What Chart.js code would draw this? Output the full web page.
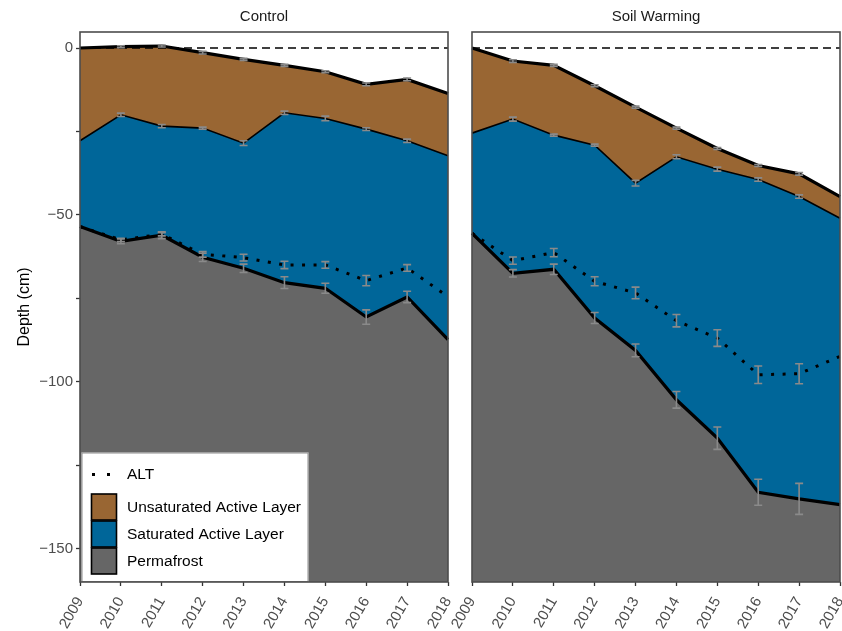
<!DOCTYPE html>
<html>
<head>
<meta charset="utf-8">
<script src="https://cdn.jsdelivr.net/npm/chart.js@4"></script>
<style>
  html, body { margin: 0; padding: 0; background: #ffffff; }
  #wrap { position: relative; width: 842px; height: 631px; overflow: hidden; }
  canvas { position: absolute; top: 0; }
  #ctl { left: 0px; }
  #sw { left: 420px; }
</style>
</head>
<body>
<div id="wrap">
  <canvas id="ctl" width="460" height="631"></canvas>
  <canvas id="sw" width="422" height="631"></canvas>
</div>
<script>
// Years on the x axis
const years = ['2009','2010','2011','2012','2013','2014','2015','2016','2017','2018'];

// Depth axis ticks (cm) and their labels
const yTickValues = [0, -25, -50, -75, -100, -125, -150];
const yTickLabels = ['0', '', '\u221250', '', '\u2212100', '', '\u2212150'];

// Panel titles
const panelTitles = ['Control', 'Soil Warming'];

// Layer names for the key
const altName = 'ALT';
const layerNames = ['Unsaturated Active Layer', 'Saturated Active Layer', 'Permafrost'];

// Control plots: ground surface, water table, thaw front, active layer thickness (cm)
const ctlSurface    = [0, 0.4, 0.6, -1.4, -3.4, -5.2, -7.1, -10.9, -9.4, -13.6];
const ctlSatTop     = [-27.8, -20.0, -23.4, -24.0, -28.5, -19.4, -21.1, -24.3, -27.8, -32.3];
const ctlPermafrost = [-53.5, -57.9, -56.1, -62.7, -66.0, -70.3, -72.0, -80.6, -74.6, -87.4];
const ctlALT        = [-53.5, -57.5, -55.8, -61.8, -62.8, -65.0, -65.0, -69.7, -65.9, -74.5];
// Control standard errors
const ctlSurfaceErr    = [null, 0.3, 0.3, 0.4, 0.3, 0.3, 0.3, 0.4, 0.4, null];
const ctlSatTopErr     = [null, 0.5, 0.5, 0.3, 0.7, 0.5, 0.7, 0.4, 0.5, null];
const ctlPermafrostErr = [null, 0.7, 1.0, 1.25, 1.25, 1.75, 1.5, 2.15, 1.7, null];
const ctlALTErr        = [null, 0.5, 0.5, 0.85, 1.0, 1.1, 1.0, 1.55, 1.0, null];

// Soil warming plots
const swSurface    = [0, -3.9, -5.2, -11.3, -17.7, -24.0, -30.1, -35.2, -37.7, -44.5];
const swSatTop     = [-25.5, -21.3, -26.1, -29.1, -40.5, -32.6, -36.3, -39.4, -44.5, -51.0];
const swPermafrost = [-55.5, -67.5, -66.3, -80.9, -90.6, -105.4, -116.9, -133.1, -135.1, -136.8];
const swALT        = [-55.5, -63.7, -61.3, -69.9, -73.4, -81.7, -86.9, -97.9, -97.6, -92.4];
// Soil warming standard errors
const swSurfaceErr    = [null, 0.4, 0.3, 0.3, 0.3, 0.3, 0.3, 0.3, 0.4, null];
const swSatTopErr     = [null, 0.6, 0.3, 0.3, 0.85, 0.6, 0.6, 0.5, 0.5, null];
const swPermafrostErr = [null, 1.1, 1.55, 1.65, 1.9, 2.5, 3.35, 3.9, 4.65, null];
const swALTErr        = [null, 1.1, 1.25, 1.35, 1.75, 1.85, 2.5, 2.6, 3.0, null];

const FONT = '"Liberation Sans", Arial, Helvetica, sans-serif';
const BROWN = '#996633';
const BLUE = '#006699';
const GREY = '#666666';
const ERR = '#8a8a8a';
const Y_MIN = -160;
const Y_MAX = 4.8;

// Vertical error bars with caps, drawn over the areas
const errorBarPlugin = {
  id: 'errorBars',
  afterDatasetsDraw(chart, args, opts) {
    const ctx = chart.ctx, xs = chart.scales.x, ys = chart.scales.y, a = chart.chartArea;
    ctx.save();
    ctx.beginPath();
    ctx.rect(a.left, a.top, a.right - a.left, a.bottom - a.top);
    ctx.clip();
    ctx.strokeStyle = ERR;
    ctx.lineWidth = 1.6;
    (opts.sets || []).forEach(set => {
      set.values.forEach((v, i) => {
        const e = set.errors[i];
        if (e == null) return;
        const x = xs.getPixelForValue(i);
        const y1 = ys.getPixelForValue(v + e);
        const y2 = ys.getPixelForValue(v - e);
        ctx.beginPath();
        ctx.moveTo(x, y1); ctx.lineTo(x, y2);
        ctx.moveTo(x - 4, y1); ctx.lineTo(x + 4, y1);
        ctx.moveTo(x - 4, y2); ctx.lineTo(x + 4, y2);
        ctx.stroke();
      });
    });
    ctx.restore();
  }
};

// Strip title, optional key, and panel frame
const panelPlugin = {
  id: 'panel',
  afterDraw(chart, args, opts) {
    const ctx = chart.ctx, a = chart.chartArea;
    ctx.save();
    // title above the panel
    ctx.fillStyle = '#1a1a1a';
    ctx.font = '15px ' + FONT;
    ctx.textAlign = 'center';
    ctx.textBaseline = 'middle';
    ctx.fillText(opts.title, (a.left + a.right) / 2, 17);

    if (opts.showKey) {
      const kx = a.left + 1.5, ky = 452.5, kw = 227, kh = a.bottom - ky;
      ctx.fillStyle = '#ffffff';
      ctx.fillRect(kx, ky, kw, kh);
      ctx.strokeStyle = '#8c8c8c';
      ctx.lineWidth = 1;
      ctx.strokeRect(kx + 0.5, ky + 0.5, kw - 1, kh - 1);
      ctx.font = '15.5px ' + FONT;
      ctx.textAlign = 'left';
      ctx.fillStyle = '#000000';
      // dotted line key
      ctx.fillRect(92, 473, 3, 3);
      ctx.fillRect(107, 473, 3, 3);
      ctx.fillText(altName, 127, 475);
      const fills = [BROWN, BLUE, GREY];
      layerNames.forEach((name, i) => {
        const sy = 494 + i * 27;
        ctx.fillStyle = fills[i];
        ctx.fillRect(91.5, sy, 25, 26);
        ctx.strokeStyle = '#000000';
        ctx.lineWidth = 1.6;
        ctx.strokeRect(91.5, sy, 25, 26);
        ctx.fillStyle = '#000000';
        ctx.fillText(name, 127, sy + 13.5);
      });
    }

    // panel frame
    ctx.strokeStyle = '#4d4d4d';
    ctx.lineWidth = 1.6;
    ctx.strokeRect(a.left, a.top, a.right - a.left, a.bottom - a.top);
    ctx.restore();
  }
};

function makePanel(canvasId, title, surface, satTop, permafrost, alt, errs, isLeft) {
  const padLeft = isLeft ? 0 : 52;
  const padRight = isLeft ? 12 : 2;
  return new Chart(document.getElementById(canvasId), {
    type: 'line',
    data: {
      labels: years,
      datasets: [
        { label: altName, data: alt, borderColor: '#000000', borderWidth: 3,
          borderDash: [3, 8.5], borderCapStyle: 'butt', fill: false, pointRadius: 0, tension: 0 },
        { label: layerNames[0], data: surface, borderColor: '#000000', borderWidth: 3.2,
          backgroundColor: BROWN, fill: '+1', pointRadius: 0, tension: 0 },
        { label: layerNames[1], data: satTop, borderColor: '#000000', borderWidth: 1.6,
          backgroundColor: BLUE, fill: '+1', pointRadius: 0, tension: 0 },
        { label: layerNames[2], data: permafrost, borderColor: '#000000', borderWidth: 3.2,
          backgroundColor: GREY, fill: 'start', pointRadius: 0, tension: 0 },
        { label: 'surface', data: years.map(() => 0), borderColor: '#000000', borderWidth: 1.5,
          borderDash: [8, 5], fill: false, pointRadius: 0, tension: 0 }
      ]
    },
    options: {
      responsive: false,
      animation: false,
      devicePixelRatio: 1,
      layout: { padding: { top: 32, left: padLeft, right: padRight, bottom: 0 } },
      plugins: {
        legend: { display: false },
        tooltip: { enabled: false },
        filler: { drawTime: 'beforeDatasetsDraw' },
        errorBars: { sets: [
          { values: surface, errors: errs[0] },
          { values: satTop, errors: errs[1] },
          { values: permafrost, errors: errs[2] },
          { values: alt, errors: errs[3] }
        ] },
        panel: { title: title, showKey: isLeft }
      },
      scales: {
        x: {
          type: 'category',
          offset: false,
          grid: { display: true, drawOnChartArea: false, tickLength: 4, tickWidth: 1.3, tickColor: '#333333' },
          border: { display: false },
          ticks: { color: '#4d4d4d', font: { family: FONT, size: 15 }, minRotation: 60, maxRotation: 60,
                   padding: 8, autoSkip: false },
          afterFit(scale) { scale.height = 49; scale.paddingLeft = 0; scale.paddingRight = 0; }
        },
        y: {
          type: 'linear',
          min: Y_MIN,
          max: Y_MAX,
          display: isLeft,
          afterBuildTicks(scale) { scale.ticks = yTickValues.map(v => ({ value: v })); },
          grid: { display: true, drawOnChartArea: false, tickLength: 4, tickWidth: 1.3, tickColor: '#333333' },
          border: { display: false },
          ticks: {
            color: '#4d4d4d', font: { family: FONT, size: 15 }, padding: 3,
            callback(v) { const i = yTickValues.indexOf(v); return i >= 0 ? yTickLabels[i] : ''; }
          },
          title: { display: true, text: 'Depth (cm)', color: '#000000',
                   font: { family: FONT, size: 16 }, padding: { top: 15, bottom: 0 } },
          afterFit(scale) { scale.width = isLeft ? 80 : 0; scale.paddingTop = 0; scale.paddingBottom = 0; }
        }
      }
    },
    plugins: [errorBarPlugin, panelPlugin]
  });
}

makePanel('ctl', panelTitles[0], ctlSurface, ctlSatTop, ctlPermafrost, ctlALT,
  [ctlSurfaceErr, ctlSatTopErr, ctlPermafrostErr, ctlALTErr], true);
makePanel('sw', panelTitles[1], swSurface, swSatTop, swPermafrost, swALT,
  [swSurfaceErr, swSatTopErr, swPermafrostErr, swALTErr], false);
</script>
</body>
</html>
